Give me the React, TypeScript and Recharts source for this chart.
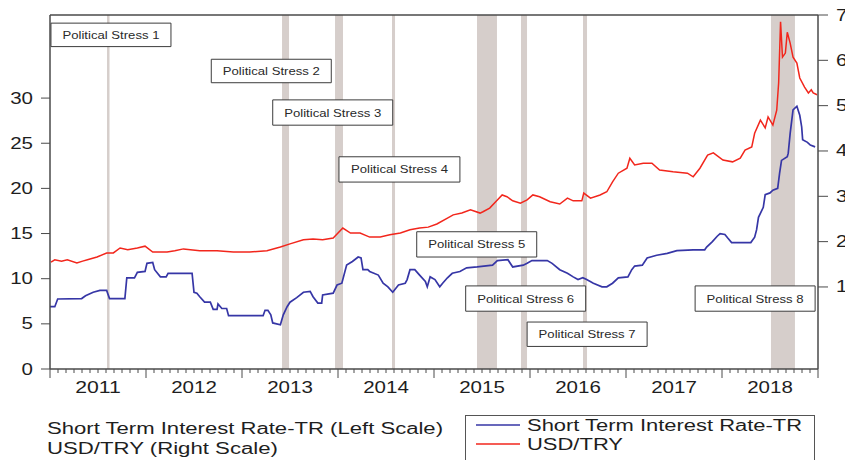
import React from 'react';
import { LineChart, Line, XAxis, YAxis, ReferenceArea, ReferenceLine } from 'recharts';

// Short term interest rate (left scale): [decimal year, %]
const rateSeries: [number, number][] = [
  [2011.0, 6.9], [2011.05, 6.9], [2011.08, 7.75], [2011.33, 7.8], [2011.37, 8.1], [2011.45, 8.5],
  [2011.52, 8.7], [2011.59, 8.7], [2011.62, 7.8], [2011.78, 7.8], [2011.8, 10.1], [2011.88, 10.1],
  [2011.91, 10.7], [2011.99, 10.8], [2012.01, 11.7], [2012.07, 11.8], [2012.09, 11.0], [2012.15, 10.2],
  [2012.21, 10.2], [2012.23, 10.6], [2012.48, 10.6], [2012.5, 8.5], [2012.53, 8.4], [2012.56, 8.0],
  [2012.61, 7.4], [2012.67, 7.4], [2012.7, 6.6], [2012.74, 6.6], [2012.75, 7.2], [2012.79, 6.7],
  [2012.84, 6.7], [2012.86, 5.9], [2013.22, 5.9], [2013.24, 6.5], [2013.27, 6.5], [2013.3, 6.0],
  [2013.32, 5.1], [2013.4, 4.9], [2013.43, 6.0], [2013.47, 6.9], [2013.5, 7.4], [2013.57, 7.9],
  [2013.64, 8.5], [2013.71, 8.6], [2013.74, 8.0], [2013.79, 7.3], [2013.83, 7.3], [2013.84, 8.2],
  [2013.95, 8.4], [2013.99, 9.3], [2014.04, 9.5], [2014.09, 11.5], [2014.15, 11.9], [2014.21, 12.4],
  [2014.24, 12.3], [2014.26, 11.0], [2014.31, 11.0], [2014.33, 10.8], [2014.42, 10.4], [2014.47, 9.5],
  [2014.52, 9.1], [2014.57, 8.5], [2014.63, 9.3], [2014.7, 9.5], [2014.72, 9.9], [2014.75, 11.0],
  [2014.8, 11.0], [2014.85, 10.4], [2014.91, 9.7], [2014.93, 9.1], [2014.96, 10.2], [2015.01, 9.9],
  [2015.06, 9.1], [2015.09, 9.5], [2015.14, 10.1], [2015.19, 10.6], [2015.27, 10.8], [2015.34, 11.2],
  [2015.45, 11.3], [2015.61, 11.5], [2015.66, 12.0], [2015.77, 12.1], [2015.82, 11.3], [2015.93, 11.5],
  [2015.97, 11.7], [2016.02, 12.0], [2016.18, 12.0], [2016.23, 11.7], [2016.31, 11.0], [2016.39, 10.6],
  [2016.45, 10.2], [2016.5, 9.9], [2016.55, 10.1], [2016.59, 9.9], [2016.66, 9.5], [2016.75, 9.1],
  [2016.8, 9.1], [2016.86, 9.5], [2016.92, 10.1], [2017.02, 10.2], [2017.06, 11.0], [2017.09, 11.4],
  [2017.17, 11.5], [2017.22, 12.3], [2017.32, 12.6], [2017.43, 12.8], [2017.53, 13.1], [2017.7, 13.2],
  [2017.82, 13.2], [2017.84, 13.5], [2017.9, 14.1], [2017.95, 14.7], [2017.98, 15.0], [2018.03, 14.9],
  [2018.06, 14.5], [2018.1, 14.0], [2018.3, 14.0], [2018.34, 14.6], [2018.36, 15.4], [2018.38, 16.8],
  [2018.43, 17.9], [2018.45, 19.3], [2018.5, 19.5], [2018.53, 19.8], [2018.58, 20.0], [2018.6, 21.7],
  [2018.62, 23.1], [2018.68, 23.5], [2018.69, 23.9], [2018.71, 26.1], [2018.74, 28.7], [2018.78, 29.1],
  [2018.81, 28.1], [2018.83, 26.8], [2018.84, 25.4], [2018.89, 25.1], [2018.92, 24.8], [2018.97, 24.6],
];

// USD/TRY (right scale): [decimal year, TRY per USD]
const fxSeries: [number, number][] = [
  [2011.01, 1.55], [2011.05, 1.6], [2011.12, 1.57], [2011.18, 1.6], [2011.28, 1.53], [2011.34, 1.57],
  [2011.39, 1.6], [2011.49, 1.66], [2011.59, 1.75], [2011.66, 1.75], [2011.73, 1.86], [2011.81, 1.82],
  [2011.91, 1.86], [2011.99, 1.9], [2012.07, 1.77], [2012.22, 1.77], [2012.3, 1.8], [2012.39, 1.84],
  [2012.56, 1.8], [2012.74, 1.8], [2012.91, 1.77], [2013.08, 1.77], [2013.26, 1.8], [2013.4, 1.88],
  [2013.5, 1.95], [2013.64, 2.04], [2013.74, 2.06], [2013.84, 2.04], [2013.95, 2.08], [2014.05, 2.3],
  [2014.13, 2.19], [2014.23, 2.19], [2014.33, 2.1], [2014.44, 2.1], [2014.54, 2.15], [2014.65, 2.19],
  [2014.75, 2.26], [2014.85, 2.3], [2014.94, 2.32], [2015.03, 2.39], [2015.14, 2.52], [2015.2, 2.59],
  [2015.29, 2.63], [2015.38, 2.7], [2015.48, 2.63], [2015.51, 2.66], [2015.58, 2.74], [2015.66, 2.92],
  [2015.71, 3.03], [2015.76, 2.99], [2015.82, 2.9], [2015.9, 2.85], [2015.97, 2.92], [2016.03, 3.03],
  [2016.1, 2.99], [2016.21, 2.88], [2016.31, 2.83], [2016.39, 2.96], [2016.45, 2.9], [2016.54, 2.9],
  [2016.56, 3.07], [2016.63, 2.96], [2016.73, 3.03], [2016.8, 3.1], [2016.86, 3.32], [2016.92, 3.51],
  [2017.01, 3.62], [2017.04, 3.84], [2017.09, 3.69], [2017.18, 3.73], [2017.27, 3.73], [2017.35, 3.58],
  [2017.49, 3.54], [2017.64, 3.51], [2017.7, 3.43], [2017.77, 3.62], [2017.85, 3.91], [2017.91, 3.96],
  [2018.01, 3.8], [2018.11, 3.76], [2018.19, 3.84], [2018.24, 4.02], [2018.31, 4.09], [2018.34, 4.39],
  [2018.4, 4.68], [2018.45, 4.51], [2018.48, 4.75], [2018.53, 4.57], [2018.57, 4.9], [2018.59, 5.5],
  [2018.61, 6.85], [2018.63, 6.07], [2018.66, 6.16], [2018.68, 6.62], [2018.71, 6.38], [2018.74, 6.07],
  [2018.78, 5.94], [2018.81, 5.61], [2018.86, 5.41], [2018.9, 5.28], [2018.93, 5.35], [2018.95, 5.28],
  [2018.99, 5.24],
];

// Political stress periods (shaded bands): [start, end] in decimal years
const stressBands: [number, number][] = [
  [2011.594, 2011.62], [2013.417, 2013.49], [2013.969, 2014.052], [2014.5625, 2014.594],
  [2015.448, 2015.656], [2015.906, 2015.969], [2016.552, 2016.594], [2018.51, 2018.76],
];

// Annotation boxes: label, [x1, x2] years, [y1, y2] on the left scale
const stressLabels: { text: string; x: [number, number]; y: [number, number] }[] = [
  { text: 'Political Stress 1', x: [2011.01, 2012.26], y: [35.7, 38.3] },
  { text: 'Political Stress 2', x: [2012.68, 2013.93], y: [31.7, 34.3] },
  { text: 'Political Stress 3', x: [2013.32, 2014.57], y: [27.0, 29.8] },
  { text: 'Political Stress 4', x: [2014.01, 2015.27], y: [20.7, 23.5] },
  { text: 'Political Stress 5', x: [2014.82, 2016.07], y: [12.4, 15.2] },
  { text: 'Political Stress 6', x: [2015.33, 2016.58], y: [6.4, 9.2] },
  { text: 'Political Stress 7', x: [2015.97, 2017.22], y: [2.5, 5.2] },
  { text: 'Political Stress 8', x: [2017.72, 2018.97], y: [6.4, 9.2] },
];

const leftTicks = [0, 5, 10, 15, 20, 25, 30];
const rightTicks = [1, 2, 3, 4, 5, 6, 7];
const yearLabels = ['2011', '2012', '2013', '2014', '2015', '2016', '2017', '2018'];
const monthTicks = Array.from({ length: 97 }, (_, k) => 2011 + k / 12);

const rateData = rateSeries.map(([t, v]) => ({ t, v }));
const fxData = fxSeries.map(([t, v]) => ({ t, v }));

const FONT = '"Liberation Sans", Arial, Helvetica, sans-serif';
const AXIS = '#4a4a4a';
const TXT = '#1e1e1e';
const BLUE = '#3636a6';
const RED = '#f2261c';
const BAND = '#d6cecb';
const DIGIT_W = 11.4;

const MonthTick = (props: any) => {
  const { x, y, payload } = props;
  const k = Math.round((payload.value - 2011) * 12);
  const long = k % 12 === 0;
  const label = k % 12 === 6 ? yearLabels[Math.floor(k / 12)] : null;
  return (
    <g>
      <line x1={x} x2={x} y1={y} y2={y + (long ? 9 : 4)} stroke={AXIS} strokeWidth={1} />
      {label && (
        <text x={x} y={y + 24} textAnchor="middle" fontFamily={FONT} fontSize={16} fill={TXT}
          textLength={label.length * DIGIT_W} lengthAdjust="spacingAndGlyphs">{label}</text>
      )}
    </g>
  );
};

const NumTick = (props: any) => {
  const { x, y, payload, anchor } = props;
  const s = String(payload.value);
  return (
    <text x={x} y={y + 5.5} textAnchor={anchor} fontFamily={FONT} fontSize={16} fill={TXT}
      textLength={s.length * DIGIT_W} lengthAdjust="spacingAndGlyphs">{s}</text>
  );
};

const StressLabel = (props: any) => {
  const { viewBox, text } = props;
  if (!viewBox) return null;
  const cx = viewBox.x + viewBox.width / 2;
  const cy = viewBox.y + viewBox.height / 2;
  return (
    <text x={cx} y={cy + 4} textAnchor="middle" fontFamily={FONT} fontSize={11} fill="#2a2a2a"
      textLength={97} lengthAdjust="spacingAndGlyphs">{text}</text>
  );
};

export default function App() {
  return (
    <div style={{ position: 'absolute', left: 0, top: 0, width: 845, height: 460, background: '#fff' }}>
      <LineChart width={845} height={460} margin={{ top: 15, right: 0, left: 0, bottom: 0 }}>
        <XAxis dataKey="t" type="number" domain={[2011, 2019]} ticks={monthTicks} interval={0}
          allowDataOverflow height={91} tickSize={0} tickMargin={0} tickLine={false}
          axisLine={{ stroke: AXIS, strokeWidth: 1.5 }} tick={<MonthTick />} />
        <YAxis yAxisId="left" domain={[0, 39.2]} ticks={leftTicks} interval={0} allowDataOverflow
          width={50} tickSize={9} tickMargin={8} axisLine={{ stroke: AXIS, strokeWidth: 1.5 }}
          tickLine={{ stroke: AXIS }} tick={<NumTick anchor="end" />} />
        <YAxis yAxisId="right" orientation="right" domain={[-0.81, 7]} ticks={rightTicks} interval={0}
          allowDataOverflow width={27} tickSize={10} tickMargin={8}
          axisLine={{ stroke: AXIS, strokeWidth: 1.5 }} tickLine={{ stroke: AXIS }}
          tick={<NumTick anchor="start" />} />
        {stressBands.map(([a, b], i) => (
          <ReferenceArea key={'band' + i} yAxisId="left" x1={a} x2={b} fill={BAND} fillOpacity={1}
            stroke="none" ifOverflow="hidden" />
        ))}
        <ReferenceLine yAxisId="left" y={39.2} stroke={AXIS} strokeWidth={1.5} />
        {stressLabels.map((s, i) => (
          <ReferenceArea key={'lab' + i} yAxisId="left" x1={s.x[0]} x2={s.x[1]} y1={s.y[0]} y2={s.y[1]}
            fill="#ffffff" fillOpacity={1} stroke="#3c3c3c" strokeWidth={1}
            label={<StressLabel text={s.text} />} />
        ))}
        <Line yAxisId="left" data={rateData} dataKey="v" type="linear" stroke={BLUE} strokeWidth={1.7}
          dot={false} isAnimationActive={false} name="Short Term Interest Rate-TR" />
        <Line yAxisId="right" data={fxData} dataKey="v" type="linear" stroke={RED} strokeWidth={1.5}
          dot={false} isAnimationActive={false} name="USD/TRY" />
      </LineChart>
      <svg width={845} height={460} style={{ position: 'absolute', left: 0, top: 0, pointerEvents: 'none' }}>
        <text x={47} y={434} fontFamily={FONT} fontSize={16} fill={TXT} textLength={396}
          lengthAdjust="spacingAndGlyphs">Short Term Interest Rate-TR (Left Scale)</text>
        <text x={47} y={454} fontFamily={FONT} fontSize={16} fill={TXT} textLength={231}
          lengthAdjust="spacingAndGlyphs">USD/TRY (Right Scale)</text>
        <rect x={465.5} y={415.5} width={349} height={60} fill="none" stroke="#555" strokeWidth={1} />
        <line x1={476} x2={520} y1={425} y2={425} stroke={BLUE} strokeWidth={1.5} />
        <line x1={476} x2={520} y1={444} y2={444} stroke={RED} strokeWidth={1.5} />
        <text x={527} y={431} fontFamily={FONT} fontSize={16} fill={TXT} textLength={275}
          lengthAdjust="spacingAndGlyphs">Short Term Interest Rate-TR</text>
        <text x={527} y={450} fontFamily={FONT} fontSize={16} fill={TXT} textLength={96}
          lengthAdjust="spacingAndGlyphs">USD/TRY</text>
      </svg>
    </div>
  );
}
